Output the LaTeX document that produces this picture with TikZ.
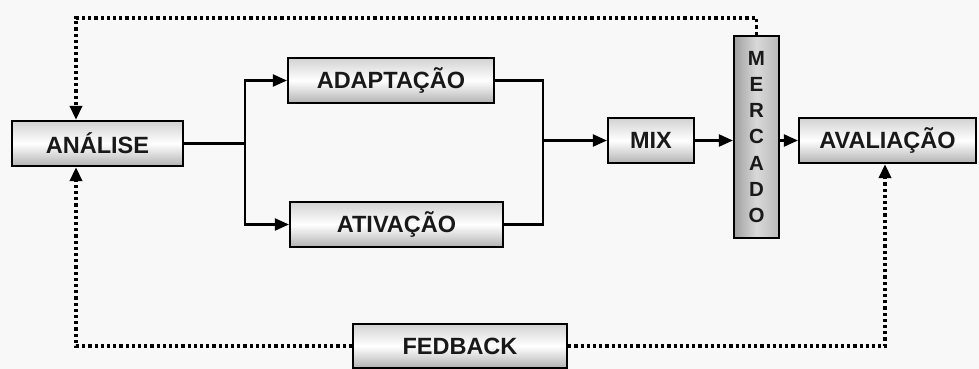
\documentclass[tikz,border=0pt]{standalone}
\usepackage{fontspec}
\setmainfont{Liberation Sans}
\usetikzlibrary{arrows.meta,calc}
\definecolor{bgc}{RGB}{248,248,248}
\begin{document}
\begin{tikzpicture}[x=1pt,y=-1pt,
  box/.style={draw=black,line width=2.2pt,inner sep=0pt,
    top color=gray!35,bottom color=gray!60,middle color=white,
    font=\fontsize{23.5}{26}\selectfont\bfseries,text=black!90},
  vbox/.style={draw=black,line width=2.2pt,inner sep=0pt,
    left color=gray!75,right color=gray!55,middle color=gray!30,
    font=\fontsize{20.5}{26.2}\selectfont\bfseries,text=black!90,align=center},
  conn/.style={line width=2.2pt,-{Triangle[length=14pt,width=12pt]}},
  plain/.style={line width=2.2pt},
  dots/.style={line width=3.4pt,dash pattern=on 3.2pt off 3pt},
  dotarrow/.style={dots,-{Triangle[length=14pt,width=12pt]}}
]
\fill[bgc] (0,0) rectangle (979,369);
\useasboundingbox (0,0) rectangle (979,369);

\node[box,minimum width=171pt,minimum height=45pt] (ana) at (97.5,143.5) {ANÁLISE};
\node[box,minimum width=206pt,minimum height=45pt] (adap) at (391,80.5) {ADAPTAÇÃO};
\node[box,minimum width=213pt,minimum height=45pt] (ativ) at (396.5,224.5) {ATIVAÇÃO};
\node[box,minimum width=86pt,minimum height=45pt] (mix) at (651,140.5) {MIX};
\node[vbox,minimum width=45pt,minimum height=202pt] (merc) at (756.5,137) {M\\E\\R\\C\\A\\D\\O};
\node[box,minimum width=177pt,minimum height=45pt] (aval) at (887.5,140.5) {AVALIAÇÃO};
\node[box,minimum width=214pt,minimum height=44pt] (fed) at (460,346) {FEDBACK};

\coordinate (split) at (245,143.5);
\coordinate (merge) at (543,140.5);
\coordinate (tl) at (76,18);
\coordinate (bl) at (76,346);
\coordinate (br) at (885,346);

\draw[plain] (ana.east) -- (split);
\draw[conn] (split) |- (adap.west);
\draw[conn] (split) |- (ativ.west);
\draw[plain] (adap.east) -| (merge);
\draw[plain] (ativ.east) -| (merge);
\draw[conn] (merge) -- (mix.west);
\draw[conn] (mix.east) -- (mix.east -| merc.west);
\draw[conn] (merc.east |- aval.west) -- (aval.west);

\draw[dotarrow] (merc.north) |- (tl) -- (tl |- ana.north);
\draw[dotarrow] (fed.west) -- (bl) -- (bl |- ana.south);
\draw[dotarrow] (fed.east) -- (br) -- (br |- aval.south);
\end{tikzpicture}
\end{document}
